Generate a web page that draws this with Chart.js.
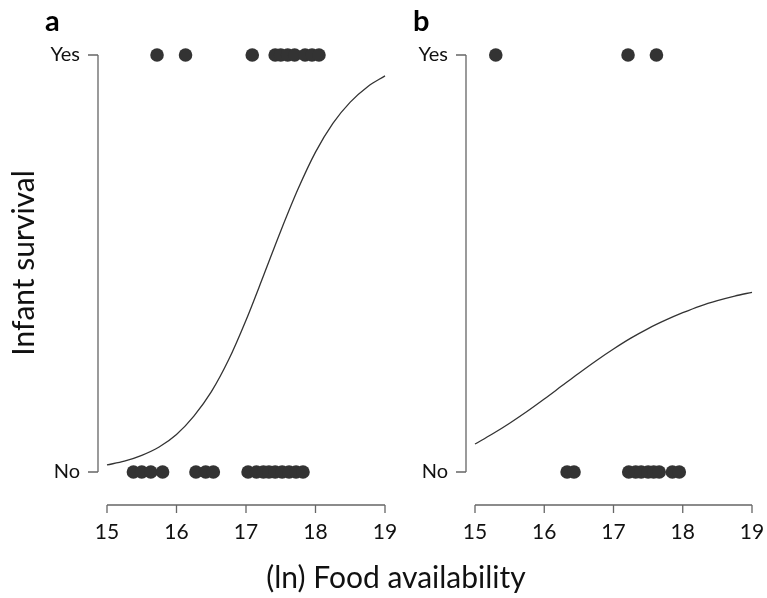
<!DOCTYPE html>
<html>
<head>
<meta charset="utf-8">
<script src="https://cdn.jsdelivr.net/npm/chart.js@4/dist/chart.umd.min.js"></script>
<style>
  body { margin: 0; background: #fff; }
  #wrap { position: relative; width: 767px; height: 598px; }
  #wrap canvas { position: absolute; left: 0; top: 0; }
</style>
</head>
<body>
<div id="wrap">
  <canvas id="chartA" width="767" height="598"></canvas>
  <canvas id="chartB" width="767" height="598"></canvas>
</div>
<script>

// tick labels
const xTicks = [15, 16, 17, 18, 19];
const yTicks = [0, 1];
const yTickLabels = ['No', 'Yes'];

// panel a: food availability of infants that survived / died
const yesA = [15.72, 16.13, 17.09, 17.42, 17.5, 17.6, 17.7, 17.85, 17.95, 18.05];
const noA = [15.38, 15.5, 15.63, 15.8, 16.28, 16.42, 16.53, 17.03, 17.15, 17.25, 17.33, 17.42, 17.52, 17.62, 17.72, 17.82];

// panel b
const yesB = [15.3, 17.21, 17.62];
const noB = [16.33, 16.43, 17.22, 17.32, 17.4, 17.5, 17.58, 17.66, 17.85, 17.95];

// fitted curves
const curveX = [15, 15.25, 15.5, 15.75, 16, 16.25, 16.5, 16.75, 17, 17.25, 17.5, 17.75, 18, 18.25, 18.5, 18.75, 19];
const curveA = [0.017, 0.026, 0.040, 0.060, 0.090, 0.134, 0.192, 0.269, 0.364, 0.470, 0.578, 0.679, 0.767, 0.836, 0.887, 0.924, 0.950];
const curveB = [0.067, 0.091, 0.117, 0.145, 0.175, 0.206, 0.237, 0.267, 0.295, 0.321, 0.344, 0.364, 0.382, 0.398, 0.411, 0.422, 0.431];

const FONT = 'Lato, "Open Sans", sans-serif';
const INK = '#333333';
const AXIS = '#666666';

function rAxesPlugin(letter, withTitles) {

  return {
    id: 'rAxes' + letter,
    afterDraw(chart) {

      const ctx = chart.ctx;
      const xs = chart.scales.x;
      const ys = chart.scales.y;
      const area = chart.chartArea;

      ctx.save();
      ctx.strokeStyle = AXIS;
      ctx.lineWidth = 1.3;

      // x axis, offset below the plot
      const xAxisY = 505;
      const x0 = xs.getPixelForValue(xTicks[0]);
      const x1 = xs.getPixelForValue(xTicks[xTicks.length - 1]);

      ctx.beginPath();
      ctx.moveTo(x0, xAxisY);
      ctx.lineTo(x1, xAxisY);
      xTicks.forEach(t => {
        const px = xs.getPixelForValue(t);
        ctx.moveTo(px, xAxisY);
        ctx.lineTo(px, xAxisY + 8);
      });
      ctx.stroke();

      ctx.fillStyle = '#111';
      ctx.font = '21px ' + FONT;
      ctx.textAlign = 'center';
      ctx.textBaseline = 'middle';
      xTicks.forEach(t => {
        ctx.fillText(String(t), xs.getPixelForValue(t), 532);
      });

      // y axis, offset left of the plot
      const yAxisX = area.left - 9;
      const yTop = ys.getPixelForValue(1);
      const yBot = ys.getPixelForValue(0);

      ctx.beginPath();
      ctx.moveTo(yAxisX, yTop);
      ctx.lineTo(yAxisX, yBot);
      yTicks.forEach(t => {
        const py = ys.getPixelForValue(t);
        ctx.moveTo(yAxisX, py);
        ctx.lineTo(yAxisX - 10, py);
      });
      ctx.stroke();

      ctx.font = '20px ' + FONT;
      ctx.textAlign = 'right';
      yTicks.forEach((t, i) => {
        ctx.fillText(yTickLabels[i], yAxisX - 18, ys.getPixelForValue(t));
      });

      // panel letter
      ctx.font = 'bold 29px ' + FONT;
      ctx.textAlign = 'left';
      ctx.textBaseline = 'alphabetic';
      ctx.fillStyle = '#000';
      ctx.fillText(letter, yAxisX - 53, 31);

      if(withTitles) {

        ctx.font = '30px ' + FONT;
        ctx.fillStyle = '#111';
        ctx.textAlign = 'center';
        ctx.textBaseline = 'middle';
        ctx.fillText('(ln) Food availability', 396, 578);

        ctx.save();
        ctx.translate(24, 263);
        ctx.rotate(-Math.PI / 2);
        ctx.fillText('Infant survival', 0, 0);
        ctx.restore();
      }

      ctx.restore();
    }
  };
}

function makePanel(id, yesVals, noVals, curveVals, pad, letter, withTitles) {

  const ctx = document.getElementById(id).getContext('2d');

  return new Chart(ctx, {

    type: 'scatter',

    data: {
      datasets: [
        {
          type: 'line',
          label: 'fit',
          data: curveX.map((x, i) => ({ x: x, y: curveVals[i] })),
          borderColor: INK,
          borderWidth: 1.3,
          pointRadius: 0,
          fill: false,
          cubicInterpolationMode: 'monotone',
          order: 2
        },
        {
          label: 'Yes',
          data: yesVals.map(x => ({ x: x, y: 1 })),
          backgroundColor: INK,
          borderWidth: 0,
          pointRadius: 6.8,
          order: 1
        },
        {
          label: 'No',
          data: noVals.map(x => ({ x: x, y: 0 })),
          backgroundColor: INK,
          borderWidth: 0,
          pointRadius: 6.8,
          order: 1
        }
      ]
    },

    options: {
      responsive: false,
      animation: false,
      clip: false,
      layout: { padding: pad },
      plugins: {
        legend: { display: false },
        tooltip: { enabled: false }
      },
      scales: {
        x: { type: 'linear', min: 15, max: 19, display: false },
        y: { type: 'linear', min: 0, max: 1, display: false }
      }
    },

    plugins: [rAxesPlugin(letter, withTitles)]
  });
}

makePanel('chartA', yesA, noA, curveA,
  { left: 107, right: 767 - 385, top: 55, bottom: 598 - 472 }, 'a', true);

makePanel('chartB', yesB, noB, curveB,
  { left: 475, right: 767 - 752, top: 55, bottom: 598 - 472 }, 'b', false);

</script>
</body>
</html>
